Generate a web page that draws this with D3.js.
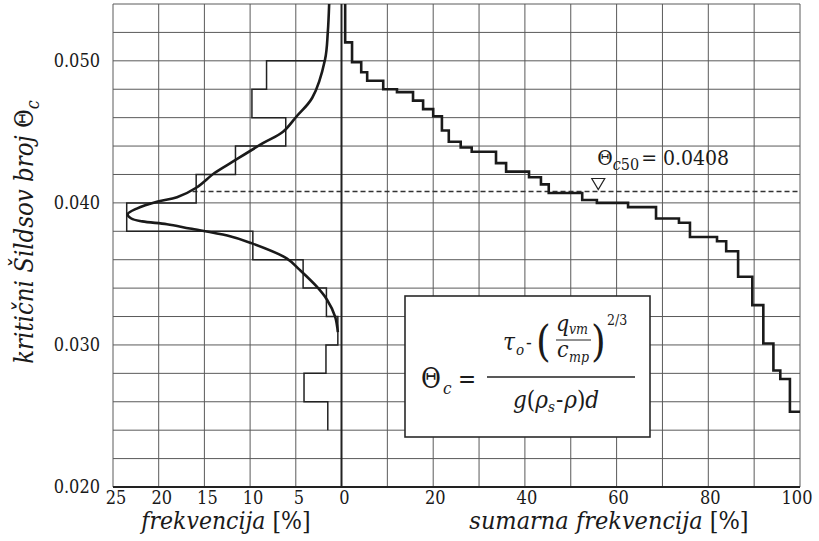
<!DOCTYPE html>
<html><head><meta charset="utf-8">
<script src="https://cdn.jsdelivr.net/npm/d3@7"></script>
<style>
body{margin:0;background:#fff}
svg{display:block}
svg text{font-family:"DejaVu Serif Condensed","DejaVu Serif",serif;font-stretch:condensed}
</style>
</head><body>
<svg id="chart" width="819" height="541"></svg>
<script>
// ---- data ----
const thetaTicks = [0.020, 0.030, 0.040, 0.050];
const thetaTickLabels = ["0.020", "0.030", "0.040", "0.050"];
const freqTicks = [25, 20, 15, 10, 5, 0];
const cumTicks = [20, 40, 60, 80, 100];

// histogram (frequency %) over Theta bins, from top to bottom
const histEdges = [0.050,0.048,0.046,0.044,0.042,0.040,0.038,0.036,0.034,0.032,0.030,0.028,0.026,0.024];
const histFreq  = [8.2, 9.8, 6.1, 11.6, 15.9, 23.5, 9.7, 4.2, 1.65, 0.4, 1.7, 4.1, 1.5];

// fitted distribution curve
const fitFreq  = [1.35, 1.5, 1.8, 3.2, 4.9, 6.4, 8.6, 11.9, 13.9, 15.8, 18.0, 20.1, 22.4, 23.4, 23.0, 21.8, 19.1, 16.6, 12.5, 10.0, 6.0, 4.6, 2.7, 1.6, 0.7, 0.4];
const fitTheta = [0.0540, 0.0520, 0.0501, 0.0474, 0.0461, 0.0450, 0.0442, 0.0429, 0.0421, 0.0411, 0.0404, 0.0401, 0.0396, 0.0392, 0.0389, 0.0387, 0.0385, 0.0382, 0.0377, 0.0372, 0.0361, 0.0353, 0.0341, 0.0332, 0.0320, 0.0309];

// cumulative frequency step curve
const cumPct   = [0.8, 2.3, 4.3, 5.6, 9.1, 12.1, 15.6, 17.8, 20.0, 21.9, 23.4, 26.0, 28.4, 33.7, 35.9, 40.9, 43.5, 45.2, 52.5, 55.7, 62.5, 68.6, 73.6, 76.0, 81.9, 83.9, 86.5, 89.6, 92.0, 94.2, 95.7, 97.8];
const cumTheta = [0.0513, 0.0499, 0.0492, 0.0486, 0.0480, 0.0478, 0.0472, 0.0466, 0.0461, 0.0451, 0.0443, 0.0439, 0.0436, 0.0428, 0.0422, 0.0418, 0.0413, 0.0407, 0.0402, 0.0400, 0.0397, 0.0389, 0.0386, 0.0376, 0.0373, 0.0366, 0.0348, 0.0328, 0.0301, 0.0282, 0.0276, 0.0253];

const theta50 = 0.0408;
const theta50Label = "0.0408";
const theta50Pct = 56;
const dashStartFreq = 16.3;

// ---- scales ----
const svg = d3.select("#chart");
const y  = d3.scaleLinear().domain([0.020, 0.054]).range([487, 4]);
const xL = d3.scaleLinear().domain([25, 0]).range([113, 341.5]);
const xR = d3.scaleLinear().domain([0, 100]).range([341.5, 800]);
const ink = "#1a1a1a";

const gridC = "#5a5a5a";
const gridTheta = d3.range(0, 18).map(i => +(0.020 + i * 0.002).toFixed(3));
svg.append("g").selectAll("line").data(gridTheta).join("line")
  .attr("x1", xL(25)).attr("x2", xR(100))
  .attr("y1", d => y(d)).attr("y2", d => y(d))
  .attr("stroke", gridC).attr("stroke-width", 1);
svg.append("g").selectAll("line").data([25, 20, 15, 10, 5]).join("line")
  .attr("x1", d => xL(d)).attr("x2", d => xL(d))
  .attr("y1", y(0.054)).attr("y2", y(0.020))
  .attr("stroke", gridC).attr("stroke-width", 1);
svg.append("g").selectAll("line").data(d3.range(1, 11).map(i => i * 10)).join("line")
  .attr("x1", d => xR(d)).attr("x2", d => xR(d))
  .attr("y1", y(0.054)).attr("y2", y(0.020))
  .attr("stroke", gridC).attr("stroke-width", 1);

svg.append("line").attr("x1", xR(0)).attr("x2", xR(0)).attr("y1", y(0.054)).attr("y2", y(0.020))
  .attr("stroke", "#222").attr("stroke-width", 2);
svg.append("line").attr("x1", xL(25)).attr("x2", xR(100)).attr("y1", y(0.020)).attr("y2", y(0.020))
  .attr("stroke", "#222").attr("stroke-width", 2);

svg.append("line").attr("x1", xL(dashStartFreq)).attr("x2", xR(100))
  .attr("y1", y(theta50)).attr("y2", y(theta50))
  .attr("stroke", "#333").attr("stroke-width", 1.3).attr("stroke-dasharray", "5,3");

// histogram outline
const hp = d3.path();
hp.moveTo(xL(1.8), y(histEdges[0]));
histFreq.forEach((f, i) => {
  hp.lineTo(xL(f), y(histEdges[i]));
  hp.lineTo(xL(f), y(histEdges[i + 1]));
  if (i + 1 < histFreq.length) hp.lineTo(xL(histFreq[i + 1]), y(histEdges[i + 1]));
});
svg.append("path").attr("d", hp.toString()).attr("fill", "none")
  .attr("stroke", "#222").attr("stroke-width", 1.5);

// fitted curve
const fitLine = d3.line().x(d => xL(d[0])).y(d => y(d[1])).curve(d3.curveCatmullRom.alpha(0.5));
svg.append("path").attr("d", fitLine(fitFreq.map((f, i) => [f, fitTheta[i]])))
  .attr("fill", "none").attr("stroke", ink).attr("stroke-width", 2.6);

// cumulative step curve
const cp = d3.path();
cp.moveTo(xR(cumPct[0]), y(0.054));
cumPct.forEach((p, i) => {
  cp.lineTo(xR(p), y(cumTheta[i]));
  const nx = i + 1 < cumPct.length ? cumPct[i + 1] : 100;
  cp.lineTo(xR(nx), y(cumTheta[i]));
});
svg.append("path").attr("d", cp.toString()).attr("fill", "none")
  .attr("stroke", ink).attr("stroke-width", 2.6);

// triangle marker
const tx = xR(theta50Pct), ty = y(theta50);
svg.append("path")
  .attr("d", `M${tx - 6.5},${ty - 13}L${tx + 6.5},${ty - 13}L${tx},${ty - 2}Z`)
  .attr("fill", "none").attr("stroke", "#222").attr("stroke-width", 1.2);

// Theta50 label
const lab = svg.append("text").attr("x", tx - 1).attr("y", ty - 27).attr("fill", ink).style("font-size", "21px");
lab.append("tspan").text("Θ");
lab.append("tspan").attr("dy", 5).style("font-size", "16px").style("font-style", "italic").text("c");
lab.append("tspan").style("font-size", "16px").text("50");
lab.append("tspan").attr("dy", -5).attr("dx", 2).text("= " + theta50Label);

// tick labels
svg.append("g").selectAll("text").data(thetaTicks).join("text")
  .attr("x", 100).attr("y", d => y(d)).attr("dy", "0.35em").attr("fill", ink)
  .attr("text-anchor", "end").style("font-size", "18px")
  .text((d, i) => thetaTickLabels[i]);
svg.append("g").selectAll("text").data(freqTicks).join("text")
  .attr("x", d => xL(d) + 3).attr("y", 504).attr("fill", ink)
  .attr("text-anchor", "middle").style("font-size", "18px").text(d => d);
svg.append("g").selectAll("text").data(cumTicks).join("text")
  .attr("x", d => xR(d) + (d === 100 ? -3 : 2)).attr("y", 504).attr("fill", ink)
  .attr("text-anchor", "middle").style("font-size", "18px").text(d => d);

// axis titles
const t1 = svg.append("text").attr("x", 226).attr("y", 529).attr("text-anchor", "middle").attr("fill", ink).style("font-size", "24.5px");
t1.append("tspan").style("font-style", "italic").text("frekvencija ");
t1.append("tspan").text("[%]");
const t2 = svg.append("text").attr("x", 609).attr("y", 529).attr("text-anchor", "middle").attr("fill", ink).style("font-size", "25px");
t2.append("tspan").style("font-style", "italic").text("sumarna frekvencija ");
t2.append("tspan").text("[%]");
const t3 = svg.append("text").attr("transform", "translate(33,232) rotate(-90)").attr("text-anchor", "middle").attr("fill", ink).style("font-size", "25.5px");
t3.append("tspan").style("font-style", "italic").text("kritični Šildsov broj ");
t3.append("tspan").text("Θ");
t3.append("tspan").attr("dy", 6).style("font-size", "18px").style("font-style", "italic").text("c");

// formula box
svg.append("rect").attr("x", 405).attr("y", 296).attr("width", 245).attr("height", 141)
  .attr("fill", "#fff").attr("stroke", "#2a2a2a").attr("stroke-width", 1.6);
const F = svg.append("g").attr("fill", ink);
F.append("text").attr("x", 421).attr("y", 388).style("font-size", "27px").text("Θ");
F.append("text").attr("x", 443).attr("y", 394).style("font-size", "17px").style("font-style", "italic").text("c");
F.append("text").attr("x", 458).attr("y", 387).style("font-size", "24px").text("=");
F.append("line").attr("x1", 487).attr("x2", 635).attr("y1", 377).attr("y2", 377).attr("stroke", "#222").attr("stroke-width", 1.4);
F.append("text").attr("x", 503).attr("y", 350).style("font-size", "24px").style("font-style", "italic").text("τ");
F.append("text").attr("x", 516).attr("y", 355).style("font-size", "15px").style("font-style", "italic").text("o");
F.append("text").attr("x", 526).attr("y", 349).style("font-size", "19px").text("-");
F.append("text").attr("x", 536).attr("y", 356).style("font-size", "42px").text("(");
F.append("text").attr("x", 591).attr("y", 356).style("font-size", "42px").text(")");
F.append("text").attr("x", 556).attr("y", 331).style("font-size", "23px").style("font-style", "italic").text("q");
F.append("text").attr("x", 569).attr("y", 334).style("font-size", "14px").style("font-style", "italic").text("vm");
F.append("line").attr("x1", 556).attr("x2", 591).attr("y1", 340).attr("y2", 340).attr("stroke", "#222").attr("stroke-width", 1);
F.append("text").attr("x", 557).attr("y", 357).style("font-size", "23px").style("font-style", "italic").text("c");
F.append("text").attr("x", 569).attr("y", 362).style("font-size", "14px").style("font-style", "italic").text("mp");
F.append("text").attr("x", 607).attr("y", 325).style("font-size", "14px").text("2/3");
const den = F.append("text").attr("x", 513).attr("y", 408).style("font-size", "24px");
den.append("tspan").style("font-style", "italic").text("g");
den.append("tspan").text("(");
den.append("tspan").style("font-style", "italic").text("ρ");
den.append("tspan").attr("dy", 4).style("font-size", "15px").style("font-style", "italic").text("s");
den.append("tspan").attr("dy", -4).attr("dx", 1).text("-");
den.append("tspan").attr("dx", 1).style("font-style", "italic").text("ρ");
den.append("tspan").text(")");
den.append("tspan").style("font-style", "italic").text("d");
</script>
</body></html>
